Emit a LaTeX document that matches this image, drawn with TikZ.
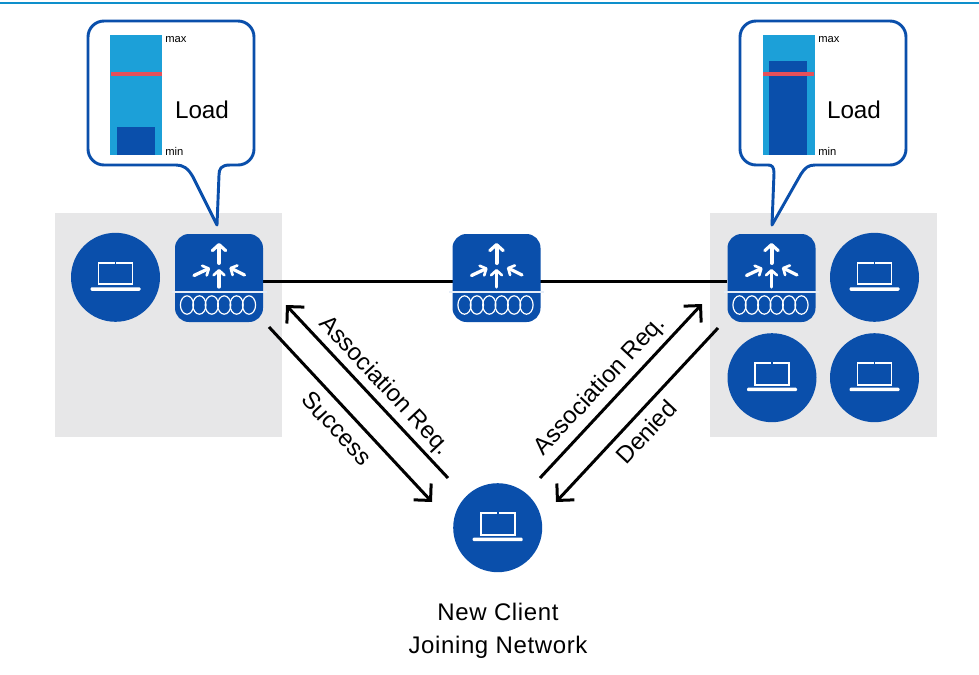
\documentclass[tikz,border=0pt]{standalone}
\usepackage{fontspec}
\setmainfont{Liberation Sans}
\newfontfamily\capfont[LetterSpace=2.6]{Liberation Sans}
\usetikzlibrary{arrows.meta}
\definecolor{ciscoblue}{HTML}{0A4FAB}
\definecolor{barblue}{HTML}{1CA0D8}
\definecolor{topblue}{HTML}{0E8FCB}
\definecolor{redline}{HTML}{E5505A}
\definecolor{graybg}{HTML}{E7E7E8}
\tikzset{
  x=0.75pt,y=-0.75pt,
  graypanel/.style={fill=graybg,draw=none},
  clientnode/.style={circle,fill=ciscoblue,draw=none,minimum size=66.75pt,inner sep=0pt},
  apnode/.style={rectangle,rounded corners=10.5pt,fill=ciscoblue,draw=none,minimum size=66pt,inner sep=0pt},
  whiteline/.style={draw=white,line width=1.4pt},
  sepline/.style={draw=white!90!ciscoblue,line width=1.3pt},
  whitearrow/.style={draw=white,line width=3pt,line cap=round,-{Straight Barb[length=4.5pt,width=10pt,line width=2.4pt,round]}},
  whitearrowsmall/.style={draw=white,line width=2.5pt,line cap=round,-{Straight Barb[length=3.6pt,width=8pt,line width=2pt,round]}},
  trunk/.style={draw=black,line width=2.25pt},
  msg/.style={draw=black,line width=2.25pt,-{Straight Barb[length=9pt,width=18pt,line width=2.25pt]}},
  bubble/.style={draw=ciscoblue,fill=white,line width=2.2pt,line join=round},
  loadtxt/.style={inner sep=0pt,font=\fontsize{18.2}{22}\selectfont},
  scaletxt/.style={inner sep=0pt,anchor=west,font=\fontsize{8.4}{10}\selectfont},
  msgtxt/.style={inner sep=0pt,font=\fontsize{18}{22}\selectfont},
  caption/.style={inner sep=0pt,align=center,font=\capfont\fontsize{18}{24.4}\selectfont},
}
\newcommand{\laptop}[3]{% name, x, y
  \node[clientnode] (#1) at (#2,#3) {};
  \begin{scope}[shift={(#2,#3)}]
    \draw[whiteline] (-17,-14.5) rectangle (17,7);
    \fill[ciscoblue] (-0.9,-16) rectangle (0.9,-13.5);
    \fill[white,rounded corners=0.8pt] (-25,10) rectangle (25,13.5);
  \end{scope}}
\newcommand{\apicon}[3]{% name, x, y
  \node[apnode] (#1) at (#2,#3) {};
  \begin{scope}[shift={(#2,#3)}]
    \draw[sepline] (-47.5,13.7) -- (47.5,13.7);
    \draw[whitearrow] (0,-15) -- (0,-35);
    \draw[whitearrowsmall] (0,9) -- (0,-9);
    \draw[whitearrowsmall] (-25,-2.5) -- (-9,-10);
    \draw[whitearrowsmall] (25.5,-3) -- (10.5,-10.5);
    \foreach \dx in {-32,-19.6,-7.2,5.2,17.6,30}
      \draw[draw=white,line width=0.9pt] (\dx,27) ellipse [x radius=6.6,y radius=9.2];
  \end{scope}}
\begin{document}
\begin{tikzpicture}
\useasboundingbox (0,0) rectangle (979,675);
\fill[white] (0,0) rectangle (979,675);
\fill[topblue] (0,1.7) rectangle (979,3.7);
% panels
\fill[graypanel] (55,213) rectangle (282,437);
\fill[graypanel] (710,213) rectangle (937,437);
% callouts
\draw[bubble] (104,21) -- (238,21) arc[start angle=-90,end angle=0,radius=16] -- (254,149)
  arc[start angle=0,end angle=90,radius=16] -- (230,165)
  .. controls (221,165) and (219,169) .. (219,175) -- (217,225) -- (193,177)
  .. controls (188,168) and (183,165) .. (176,165) -- (104,165)
  arc[start angle=90,end angle=180,radius=16] -- (88,37)
  arc[start angle=180,end angle=270,radius=16] -- cycle;
\draw[bubble] (756,21) -- (890,21) arc[start angle=-90,end angle=0,radius=16] -- (906,149)
  arc[start angle=0,end angle=90,radius=16] -- (815,165)
  .. controls (808,165) and (805,168) .. (801,174) -- (772,225) -- (774,173)
  .. controls (774,167) and (772,165) .. (768,165) -- (756,165)
  arc[start angle=90,end angle=180,radius=16] -- (740,37)
  arc[start angle=180,end angle=270,radius=16] -- cycle;
% bars
\fill[barblue] (110,35) rectangle (162,155);
\fill[ciscoblue] (117,127) rectangle (155,155);
\fill[redline] (111,72) rectangle (162,76);
\fill[barblue] (763,35) rectangle (815,155);
\fill[ciscoblue] (769,61) rectangle (807,155);
\fill[redline] (763,72) rectangle (814,76);
\node[scaletxt] (maxl) at (165,40) {max};
\node[scaletxt] (minl) at (165,151.5) {min};
\node[scaletxt] (maxr) at (818,40) {max};
\node[scaletxt] (minr) at (818,151.5) {min};
\node[loadtxt] (loadl) at (202,110) {Load};
\node[loadtxt] (loadr) at (854,110) {Load};
% trunk
\coordinate (tl) at (263,281);
\coordinate (tr) at (727,281);
\draw[trunk] (tl) -- (tr);
% devices
\laptop{c1}{115.5}{277.3}
\apicon{apl}{219}{278}
\apicon{apm}{496.5}{278}
\apicon{apr}{771.5}{278}
\laptop{c2}{874.5}{277.3}
\laptop{c3}{772}{377.7}
\laptop{c4}{874.5}{377.7}
\laptop{cn}{497.7}{527.7}
% messages
\coordinate (a1s) at (448,478);
\coordinate (a1e) at (286,305);
\coordinate (a2s) at (269,327);
\coordinate (a2e) at (432,502);
\coordinate (a3s) at (540,478);
\coordinate (a3e) at (702,304);
\coordinate (a4s) at (718,328);
\coordinate (a4e) at (556,502);
\draw[msg] (a1s) -- (a1e);
\draw[msg] (a2s) -- (a2e);
\draw[msg] (a3s) -- (a3e);
\draw[msg] (a4s) -- (a4e);
\node[msgtxt,rotate=-47] (t1) at (384.5,386) {Association Req.};
\node[msgtxt,rotate=-47] (t2) at (337,428) {Success};
\node[msgtxt,rotate=47] (t3) at (600.5,386) {Association Req.};
\node[msgtxt,rotate=47] (t4) at (646,432) {Denied};
\node[caption] (cap) at (498,631) {New Client\\Joining Network};
\end{tikzpicture}
\end{document}
